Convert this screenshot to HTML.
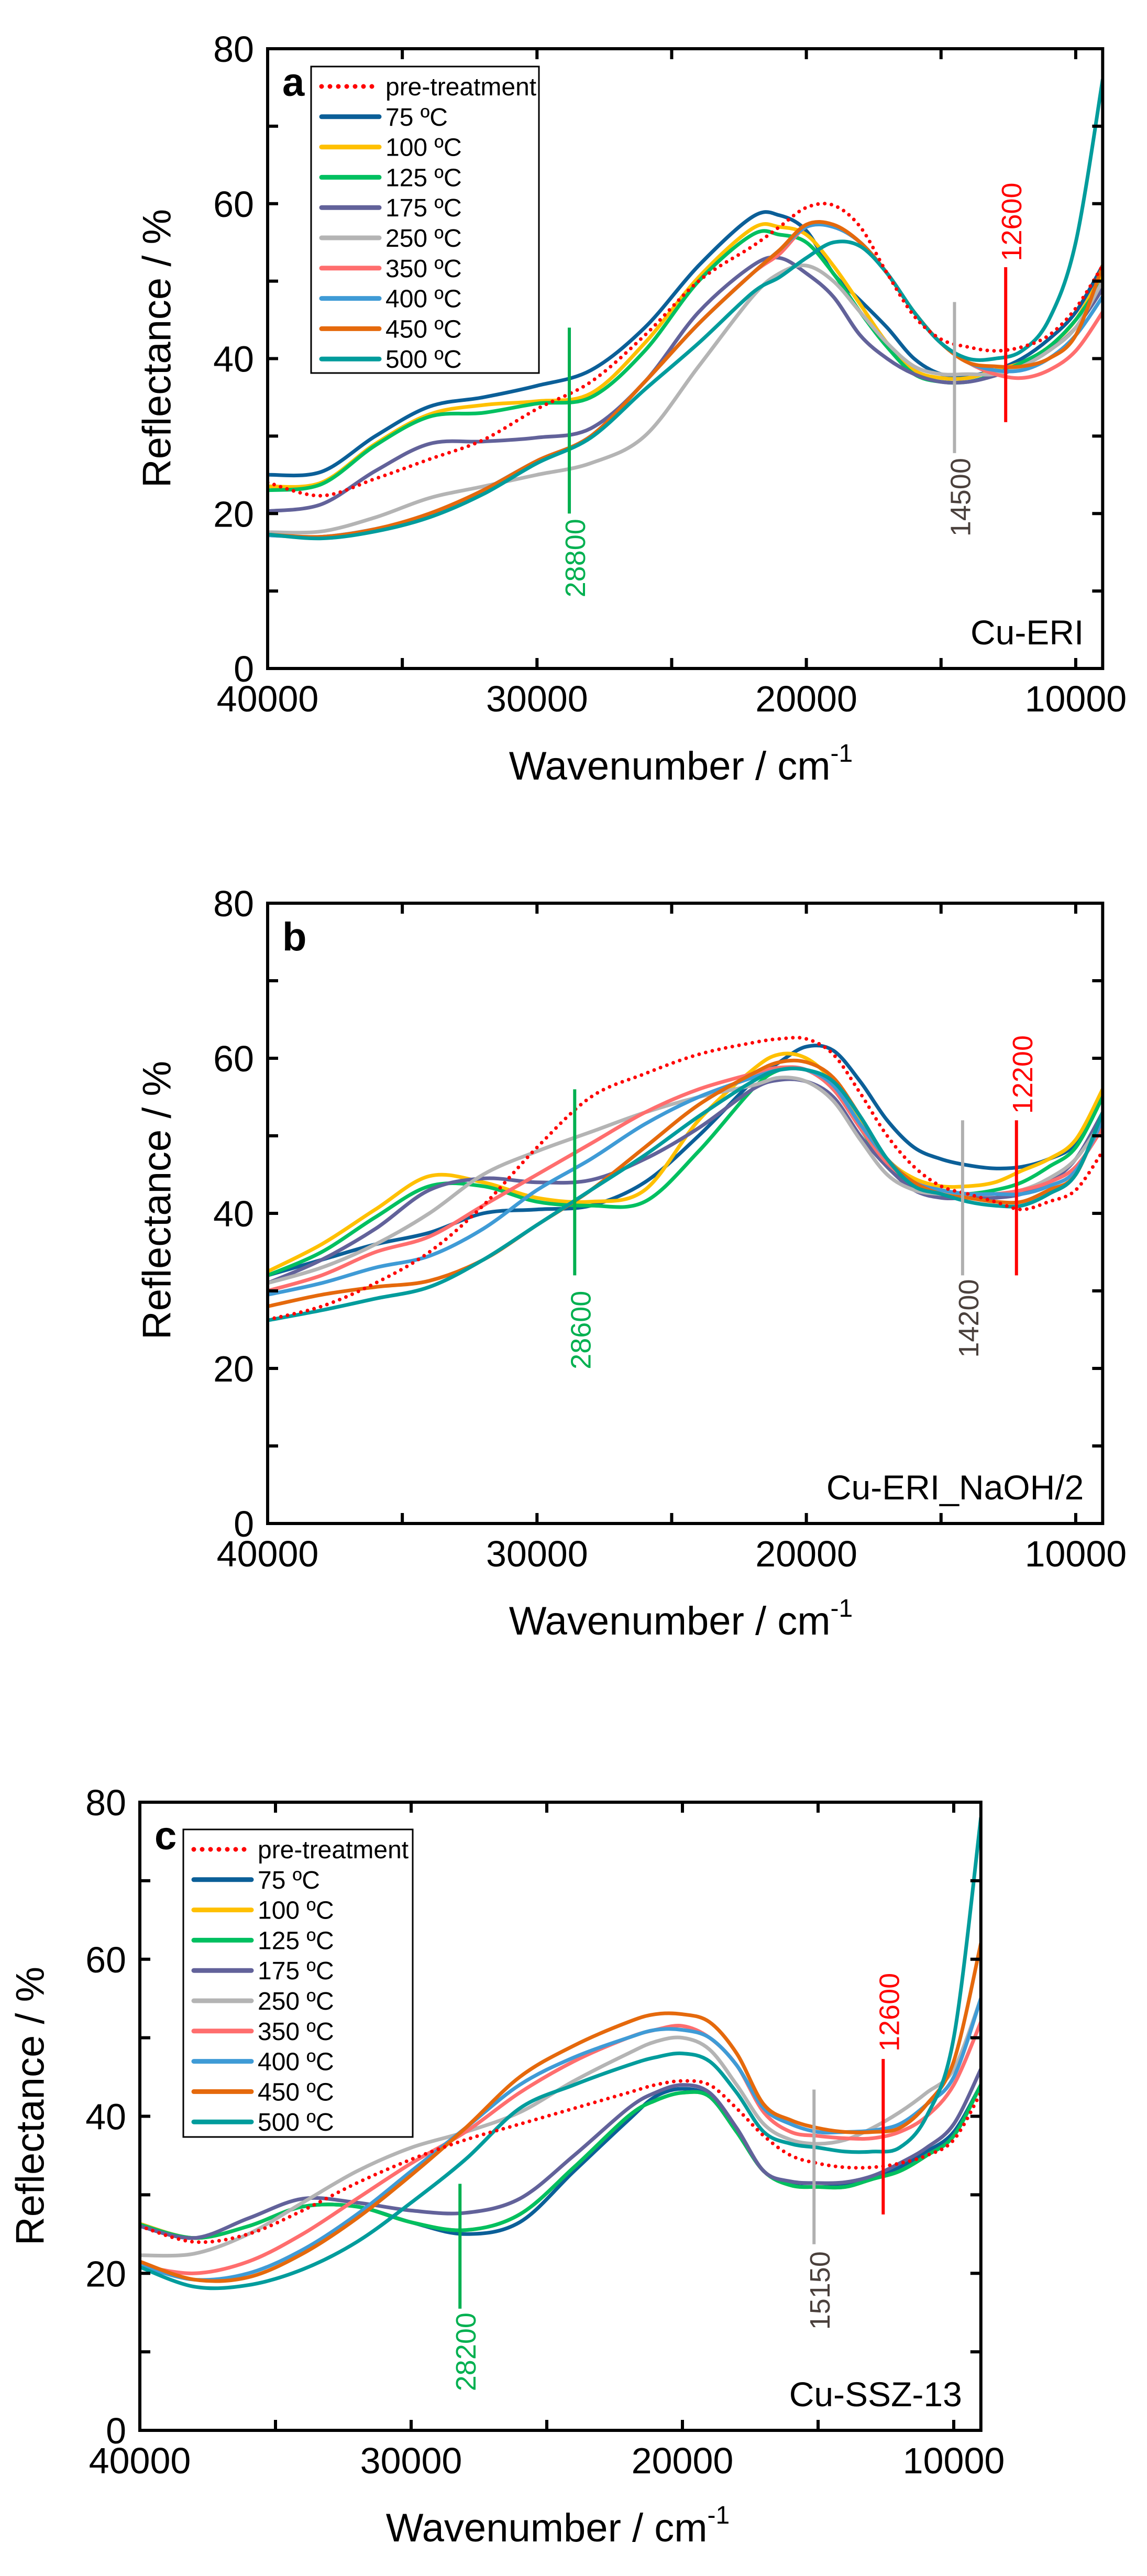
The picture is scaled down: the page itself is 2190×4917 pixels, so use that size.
<!DOCTYPE html>
<html><head><meta charset="utf-8">
<style>
html,body{margin:0;padding:0;background:#fff;}
svg{display:block;font-family:"Liberation Sans",Arial,sans-serif;}
</style></head>
<body>
<svg id="fig" width="2190" height="4917" viewBox="0 0 2190 4917" xmlns="http://www.w3.org/2000/svg"></svg>
<script>
// ---------- shared data ----------
const wavenumbers = [40000,38000,36000,34000,32000,30000,28000,26000,24000,22000,21000,20000,19000,18000,17000,16000,15000,14000,13000,12000,11000,10000,9000];
const seriesNames = ["pre-treatment","75 ºC","100 ºC","125 ºC","175 ºC","250 ºC","350 ºC","400 ºC","450 ºC","500 ºC"];
const seriesColors = ["#ff0000","#0b5f98","#ffc000","#00c060","#62629a","#b4b4b4","#ff6e6e","#3f9bd6","#e5690c","#009c9c"];
const xTicks = [40000,30000,20000,10000];
const xMinorTicks = [35000,25000,15000];
const yTicks = [0,20,40,60,80];
const yMinorTicks = [10,30,50,70];

// Panel a (Cu-ERI)
const aPre  = [24,22.3,24.5,27,29.5,33.5,37,43,50,54.5,57,59.5,59.8,57,51,45.5,42.5,41.5,41,41.5,43,46.5,52];
const a75   = [25,25.4,30,33.8,35,36.5,38.5,44,52,58.3,58.5,56.5,51,47.5,44,40,38,37.8,38.5,40,42.5,46,52];
const a100  = [23.5,24,29,32.8,34,34.5,35.5,42,50.5,56.8,57,56,52,47,42,38.5,37.5,37.5,38.5,39.5,41.5,45,51];
const a125  = [23,23.8,28.8,32.5,33,34.2,35,41,50,56,56,55,51,46,41.5,38,37,37,38,39.5,41.5,45,50];
const a175  = [20.3,21.2,25.5,29,29.3,29.8,31,37,46,52,53,51,48,43,40,38,37,37,37.8,39,41,44,49];
const a250  = [17.6,17.7,19.5,22,23.5,25,26.5,30,39,48,51,52,50,46,42,39,38,38,38,39,41,44,50];
const a350  = [17.2,17,18,19.8,23,26.8,30,37,44.5,51,53.5,57,57,55,51,46,42,39.5,38,37.5,38.5,41,46];
const a400  = [17.2,17,18,19.8,23,26.8,30,37,44.5,51,54,57,57,55,51,46,42,39.5,38.5,38.5,40,43,48];
const a450  = [17.3,17,18,20,23,26.8,30,37,44.5,51,54,57.3,57.3,55,51,46,42,39.5,39,39,40,43,52];
const a500  = [17.3,16.8,17.7,19.5,22.5,26.5,29.8,36,42,48.5,50.5,53,55,54.5,51,46,42,40,40,41,45,55,76];

// Panel b (Cu-ERI_NaOH/2)
const bPre  = [26.3,28,31,35,41,48.5,55,58,60.5,62,62.5,62.5,60.5,55.5,50,46,43.5,42.5,41.5,40.5,41.5,43,48];
const b75   = [32,34,36,37.5,40,40.5,41,44,50,57,59.5,61.5,61,57,52,48.5,47,46.2,45.8,46,47,49,55];
const b100  = [32.5,36,40.5,44.8,44,42,41.5,43,52,58.5,60.5,60,57,52,47,44.5,43.5,43.5,44,45.5,47,49.5,56];
const b125  = [32,35,39.5,43.5,43.5,41.5,41,41.5,48,56,58.5,58.5,56,51,46,43.5,42.5,42.5,43,44,46,48.5,55];
const b175  = [31,34,38,43,44.5,44,44.3,47,51,56,57.2,57,55,50,46,43,42,42,42,42.5,44,47,53];
const b250  = [31,33,36,40,45,48,50.5,53,55,56.5,57.5,57,54.5,49.5,45,43,42.5,42.5,42.5,43,44.5,47,52];
const b350  = [30,32,35,37,41,45,49,53,56,58,58.8,58.5,56,51,46.5,44,43,42.5,42.5,43,44,46,51];
const b400  = [29.5,31,33,34.5,38,43,47,51.5,55,57.5,58.5,58.5,56.5,51.5,47,44,43,42.5,42.5,42.5,43.5,45.5,52];
const b450  = [28,29.5,30.5,31.3,34,38.5,43,48.5,54,58,59.5,59.5,57.5,52.5,47,44,42.5,42,41.5,41.5,43,45,53];
const b500  = [26.2,27.5,29,30.5,34,38.5,43,47.5,52.5,57,58.5,58.5,57,52.5,47,43.5,42.5,41.5,41,41,42.5,45,53];

// Panel c (Cu-SSZ-13)
const cPre  = [26,24,25,28,31.5,34.5,37,39,41,43,44,44.5,44,41,37.5,35,34,33.5,33.5,34,35,37,43];
const c75   = [26.3,24.5,26,28.5,28.5,26.5,25,26.5,33,39.5,42.5,43.5,42.5,38,33,31.3,31,31.2,32,33.5,35.5,38,44];
const c100  = [26.3,24.5,26,28.5,28.5,26.5,25.5,27.5,33.5,40,42,43,42.5,38,33,31.2,31,31,32,33,35,37.5,44];
const c125  = [26.2,24.5,26,28.5,28.5,26.5,25.5,27.5,33.5,40,42,43,42.5,38,33,31.2,31,31,32,33,35,37.5,44];
const c175  = [26,24.5,27,29.5,29,28,27.7,29.5,35,41,43,44,43,38.5,33,31.7,31.5,31.6,32.4,34,36,39,46];
const c250  = [22.3,22.5,25,29,33,36,38,40.5,44.5,48,49.5,50,48.5,44,39,37,36.5,37,38.5,40.5,43,46,55];
const c350  = [21,20,21.5,25,29.5,34,38,43,47,50,51,51.5,50,46.5,40.5,38,37.5,37.2,37.2,38,40,44,52];
const c400  = [21,19.2,20,23,27.5,33,38.5,44,47.5,50,51,51,50,46.5,41,39,38,38,38.2,39,41.5,45,55];
const c450  = [21.5,19.2,19.5,22.5,27,32.5,38.5,45,49,52,53,53,52,48,41.5,39.5,38.5,38,38,38.5,41.5,47,62];
const c500  = [20.8,18.3,18.5,20.5,24,29,34.5,41,44,46.5,47.5,48,47,43,38,36.5,36,35.5,35.5,36,40,50,78];

// markers: [wavenumber, y-from, y-to, label-from, label-to]
const aMarkers = [[28800,20,44,9,19.5],[14500,27.8,47.3,17.4,26.8],[12600,31.8,51.8,52.8,62.5]];
const bMarkers = [[28600,32,56,20,29.9],[14200,32,52,21.5,31.4],[12200,32,52,53.1,62.7]];
const cMarkers = [[28200,15.5,31.4,5,15],[15150,23.7,43.4,13,22.6],[12600,27.5,47.3,48.6,57.9]];
const markerColors = ["#00b050","#b0b0b0","#ff0000"];
const markerLabelColors = ["#00b050","#4a403c","#ff0000"];

// ---------- drawing ----------
const NS = "http://www.w3.org/2000/svg";
const svg = document.getElementById("fig");
function mk(tag, attrs, parent){
  const e = document.createElementNS(NS, tag);
  for (const k in attrs) e.setAttribute(k, attrs[k]);
  (parent||svg).appendChild(e);
  return e;
}
function smoothPath(pts){
  let d = "M"+pts[0][0].toFixed(1)+","+pts[0][1].toFixed(1);
  for (let i=0;i<pts.length-1;i++){
    const p0=pts[Math.max(0,i-1)], p1=pts[i], p2=pts[i+1], p3=pts[Math.min(pts.length-1,i+2)];
    const c1x=p1[0]+(p2[0]-p0[0])/6, c1y=p1[1]+(p2[1]-p0[1])/6;
    const c2x=p2[0]-(p3[0]-p1[0])/6, c2y=p2[1]-(p3[1]-p1[1])/6;
    d += " C"+c1x.toFixed(1)+","+c1y.toFixed(1)+" "+c2x.toFixed(1)+","+c2y.toFixed(1)+" "+p2[0].toFixed(1)+","+p2[1].toFixed(1);
  }
  return d;
}

function drawPanel(cfg){
  const g = mk("g", {});
  
  
  const L=cfg.left, T=cfg.top, B=cfg.bottom, px10k=cfg.px10k;
  const R = L + 3.1*px10k;
  const xs = v => L + (40000-v)/10000*px10k;
  const ys = v => B - v*(B-T)/80;

  const clip = mk("clipPath", {id:"clip-"+cfg.id}, g);
  mk("rect", {x:L, y:T, width:R-L, height:B-T}, clip);

  // series
  const sg = mk("g", {"clip-path":"url(#clip-"+cfg.id+")"}, g);
  const order = [1,2,3,4,5,6,7,8,9,0];
  order.forEach(i=>{
    const vals = cfg.series[i];
    const pts = wavenumbers.map((w,j)=>[xs(w), ys(vals[j])]);
    const p = mk("path", {d:smoothPath(pts), fill:"none", stroke:seriesColors[i],
      "stroke-width": i===0?7:7, "stroke-linecap":"round", "stroke-linejoin":"round"}, sg);
    if (i===0){ p.setAttribute("stroke-dasharray","0 13"); }
    
    
  });

  // markers
  cfg.markers.forEach((m,k)=>{
    const x = xs(m[0]);
    const ln = mk("line", {x1:x, x2:x, y1:ys(m[1]), y2:ys(m[2]), stroke:markerColors[k], "stroke-width":6}, g);
    
    
    const ly = (ys(m[3])+ys(m[4]))/2;
    const t = mk("text", {x:x+12, y:ly, "font-size":54, fill:markerLabelColors[k], "text-anchor":"middle",
      "dominant-baseline":"central", transform:"rotate(-90 "+(x+12)+" "+ly+")"}, g);
    t.textContent = String(m[0]);
    
    
  });

  // frame
  const fr = mk("rect", {x:L, y:T, width:R-L, height:B-T, fill:"none", stroke:"#000", "stroke-width":6}, g);
  
  

  // ticks
  const tl = 20;
  xTicks.concat(xMinorTicks).forEach(v=>{
    const x = xs(v);
    mk("line",{x1:x,x2:x,y1:B,y2:B-tl,stroke:"#000","stroke-width":6},g);
    mk("line",{x1:x,x2:x,y1:T,y2:T+tl,stroke:"#000","stroke-width":6},g);
  });
  yTicks.concat(yMinorTicks).forEach(v=>{
    const y = ys(v);
    mk("line",{x1:L,x2:L+tl,y1:y,y2:y,stroke:"#000","stroke-width":6},g);
    mk("line",{x1:R,x2:R-tl,y1:y,y2:y,stroke:"#000","stroke-width":6},g);
  });
  xTicks.forEach(v=>{
    const t = mk("text",{x:xs(v), y:B+82, "font-size":70, "text-anchor":"middle", fill:"#000"}, g);
    t.textContent = String(v);
    
    
  });
  yTicks.forEach(v=>{
    const t = mk("text",{x:L-26, y:ys(v)+25, "font-size":70, "text-anchor":"end", fill:"#000"}, g);
    t.textContent = String(v);
    
    
  });

  // axis titles
  const yt = mk("text",{x:cfg.yTitleX, y:cfg.yTitleY, "font-size":76, "text-anchor":"middle",
     "dominant-baseline":"central", transform:"rotate(-90 "+cfg.yTitleX+" "+cfg.yTitleY+")", fill:"#000"}, g);
  yt.textContent = "Reflectance / %";
  
  
  const xt = mk("text",{x:cfg.xTitleX, y:B+212, "font-size":76, "text-anchor":"middle", fill:"#000"}, g);
  xt.textContent = "Wavenumber / cm";
  const sup = mk("tspan",{dy:-34, "font-size":48}, xt);
  sup.textContent = "-1";
  
  

  // panel letter
  const pl = mk("text",{x:L+28, y:T+90, "font-size":76, "font-weight":"bold", fill:"#000"}, g);
  pl.textContent = cfg.letter;
  
  

  // sample name
  const sn = mk("text",{x:R-36, y:B-46, "font-size":66, "text-anchor":"end", fill:"#000"}, g);
  sn.textContent = cfg.sample;
  
  

  // legend
  if (cfg.legend){
    const lg = cfg.legend;
    const lgG = mk("g", {}, g);
    
    
    mk("rect",{x:lg.x, y:lg.y, width:lg.w, height:lg.h, fill:"#fff", stroke:"#000", "stroke-width":3}, lgG);
    seriesNames.forEach((n,i)=>{
      const cy = lg.y + 38 + i*57.8;
      const ln = mk("line",{x1:lg.x+20, x2:lg.x+130, y1:cy, y2:cy, stroke:seriesColors[i], "stroke-width":9, "stroke-linecap":"round"}, lgG);
      if (i===0) ln.setAttribute("stroke-dasharray","0 16");
      const t = mk("text",{x:lg.x+142, y:cy+17, "font-size":48, fill:"#000"}, lgG);
      t.textContent = n;
      
      
    });
  }
}

drawPanel({id:"a", name:"panel-a-cu-eri", letter:"a", sample:"Cu-ERI", left:511, top:93, bottom:1276, px10k:514.3,
  series:[aPre,a75,a100,a125,a175,a250,a350,a400,a450,a500], markers:aMarkers,
  yTitleX:300, yTitleY:665, xTitleX:1300, legend:{x:594,y:127,w:435,h:585}});
drawPanel({id:"b", name:"panel-b-cu-eri-naoh", letter:"b", sample:"Cu-ERI_NaOH/2", left:511, top:1724, bottom:2908, px10k:514.3,
  series:[bPre,b75,b100,b125,b175,b250,b350,b400,b450,b500], markers:bMarkers,
  yTitleX:300, yTitleY:2291, xTitleX:1300, legend:null});
drawPanel({id:"c", name:"panel-c-cu-ssz-13", letter:"c", sample:"Cu-SSZ-13", left:267, top:3440, bottom:4639, px10k:518,
  series:[cPre,c75,c100,c125,c175,c250,c350,c400,c450,c500], markers:cMarkers,
  yTitleX:58, yTitleY:4020, xTitleX:1065, legend:{x:350,y:3492,w:438,h:587}});
</script>
</body></html>
